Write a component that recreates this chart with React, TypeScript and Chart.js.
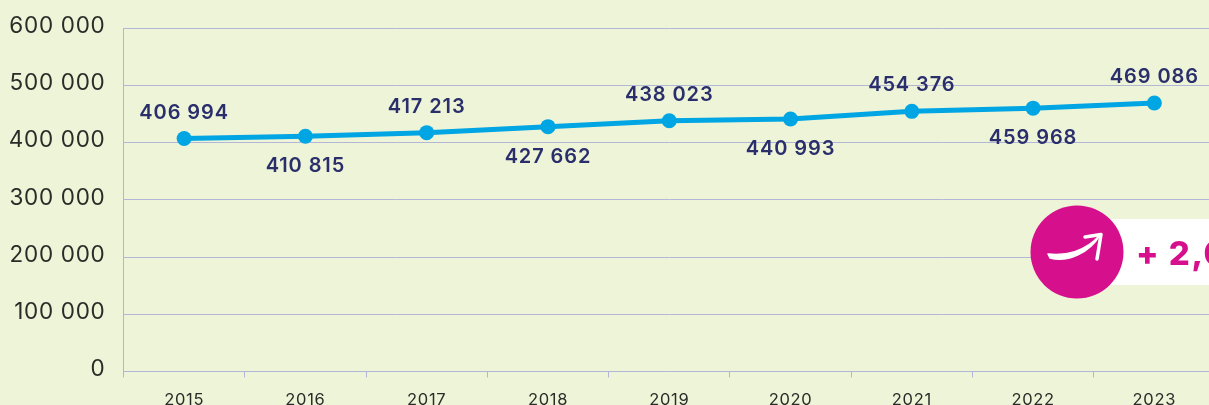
import React, { useEffect, useRef } from "react";
import { Chart, registerables } from "chart.js";

Chart.register(...registerables);

const years = ["2015", "2016", "2017", "2018", "2019", "2020", "2021", "2022", "2023"];
const values = [406994, 410815, 417213, 427662, 438023, 440993, 454376, 459968, 469086];
const labelAbove = [true, false, true, false, true, false, true, false, true];
const badgeText = "+ 2,0 %";

const BG = "#eef4d8";
const GRID = "#b4b6d8";
const LINE = "#00a5e3";
const NAVY = "#2a2f6c";
const INK = "#2b2b28";
const PINK = "#d60f8c";
const FONT = "Inter, 'Noto Sans', sans-serif";

const fmt = (v: number) => String(v).replace(/\B(?=(\d{3})+$)/g, " ");

const extras = {
  id: "extras",
  beforeDraw(chart: any) {
    (chart.ctx as any).letterSpacing = "0.7px";
  },
  afterDatasetsDraw(chart: any) {
    const { ctx } = chart;
    const meta = chart.getDatasetMeta(0);
    ctx.save();
    ctx.fillStyle = NAVY;
    ctx.font = `600 20px ${FONT}`;
    (ctx as any).letterSpacing = "0.9px";
    ctx.textAlign = "center";
    ctx.textBaseline = "middle";
    meta.data.forEach((pt: any, i: number) => {
      ctx.fillText(fmt(values[i]), pt.x, pt.y + (labelAbove[i] ? -26 : 30));
    });

    // badge
    ctx.fillStyle = "#ffffff";
    ctx.fillRect(1100, 219, 200, 66);
    ctx.fillStyle = PINK;
    ctx.beginPath();
    ctx.arc(1077, 252, 46.5, 0, Math.PI * 2);
    ctx.fill();
    ctx.font = `800 33px ${FONT}`;
    (ctx as any).letterSpacing = "1.5px";
    ctx.textAlign = "left";
    ctx.fillText(badgeText, 1136, 255);

    ctx.strokeStyle = "#ffffff";
    ctx.lineCap = "round";
    ctx.lineJoin = "round";
    ctx.fillStyle = "#ffffff";
    ctx.beginPath();
    ctx.moveTo(1048, 254);
    ctx.bezierCurveTo(1065, 256, 1085, 252, 1100, 235);
    ctx.bezierCurveTo(1090, 252, 1068, 263, 1050, 258);
    ctx.closePath();
    ctx.lineWidth = 1.5;
    ctx.stroke();
    ctx.fill();
    ctx.beginPath();
    ctx.moveTo(1085, 237);
    ctx.lineTo(1101, 234.5);
    ctx.lineTo(1097, 259);
    ctx.lineWidth = 3.5;
    ctx.stroke();
    ctx.restore();
  },
};

export default function App() {
  const ref = useRef<HTMLCanvasElement>(null);
  useEffect(() => {
    const chart = new Chart(ref.current as HTMLCanvasElement, {
      type: "line",
      data: {
        labels: years,
        datasets: [
          {
            data: values,
            borderColor: LINE,
            backgroundColor: LINE,
            borderWidth: 5,
            pointRadius: 7.5,
            pointHoverRadius: 7.5,
            pointBorderWidth: 0,
            tension: 0,
            clip: false,
          },
        ],
      },
      options: {
        animation: false,
        responsive: false,
        events: [],
        layout: { autoPadding: false, padding: { top: 28, left: 0, right: 85, bottom: 0 } },
        plugins: { legend: { display: false }, tooltip: { enabled: false }, title: { display: false } },
        scales: {
          x: {
            offset: true,
            afterFit(scale: any) {
              scale.height = 33.5;
              scale.paddingLeft = 0;
              scale.paddingRight = 0;
            },
            border: { color: GRID, width: 1 },
            grid: { drawOnChartArea: false, drawTicks: true, tickLength: 6, color: GRID, offset: true },
            ticks: {
              color: INK,
              font: { family: FONT, size: 16.5 },
              padding: 13,
              maxRotation: 0,
              autoSkip: false,
            },
          },
          y: {
            min: 0,
            max: 600000,
            afterFit(scale: any) {
              scale.width = 123.5;
              scale.paddingTop = 0;
              scale.paddingBottom = 0;
            },
            border: { color: GRID, width: 1 },
            grid: { color: GRID, lineWidth: 1, drawTicks: false },
            ticks: {
              stepSize: 100000,
              color: INK,
              font: { family: FONT, size: 22.5, weight: 400 },
              padding: 18,
              labelOffset: -2,
              callback: (v: any) => fmt(Number(v)),
            },
          },
        },
      },
      plugins: [extras],
    } as any);
    return () => chart.destroy();
  }, []);

  return (
    <div style={{ position: "fixed", left: 0, top: 0, width: 1209, height: 405, overflow: "hidden", background: BG }}>
      <canvas ref={ref} width={1300} height={405} style={{ display: "block" }} />
    </div>
  );
}
